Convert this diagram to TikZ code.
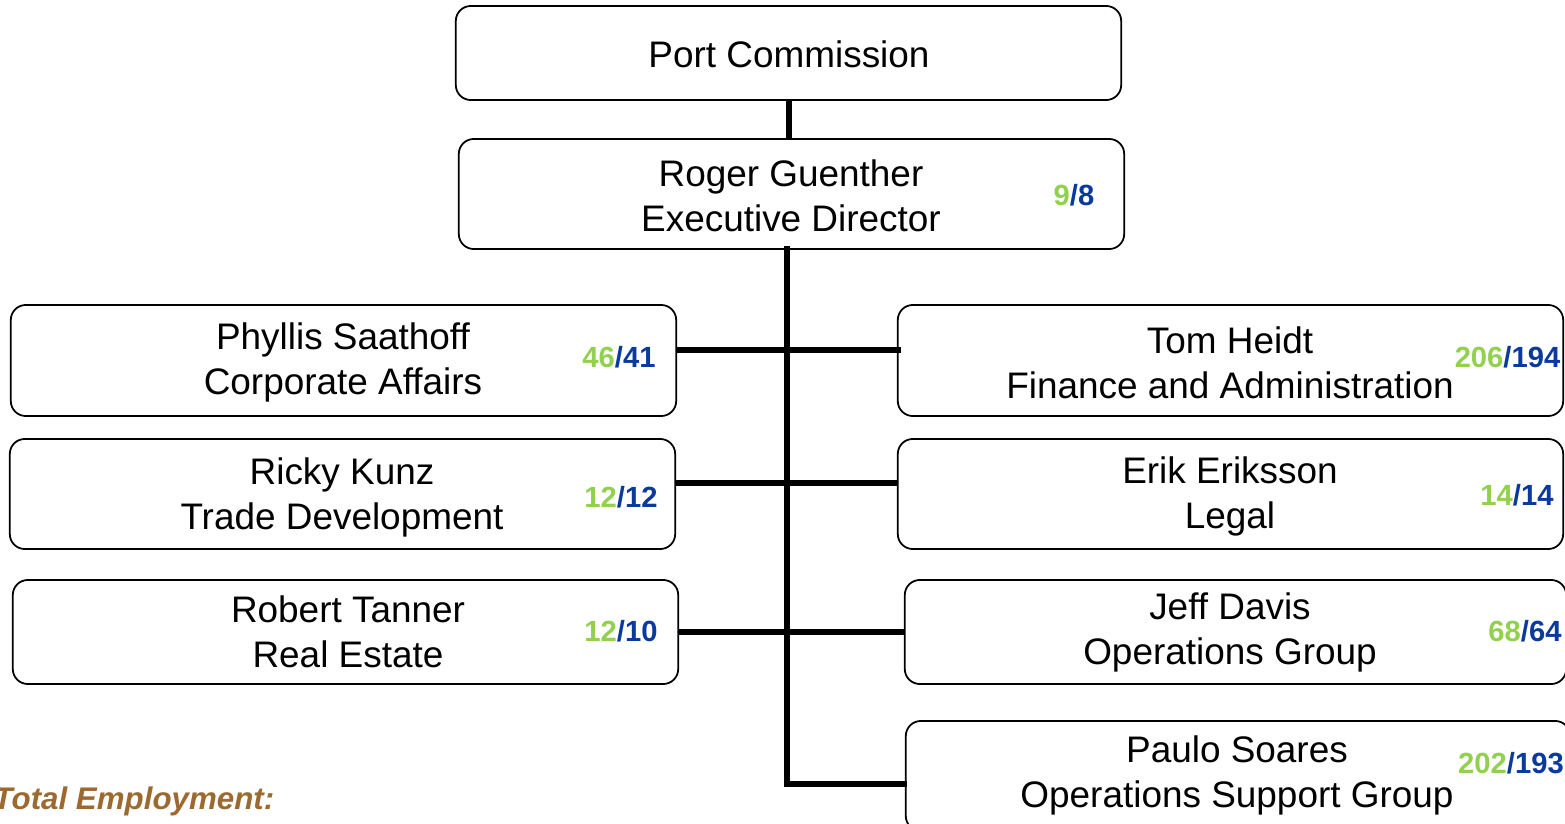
\documentclass[tikz,border=0pt]{standalone}
\usepackage{fontspec}
\setmainfont{Liberation Sans}
\definecolor{numgreen}{HTML}{92D050}
\definecolor{numblue}{HTML}{0A3A9C}
\definecolor{totbrown}{HTML}{9C6A30}
\tikzset{
  orgbox/.style={draw=black, line width=0.5pt, rounded corners=0.15cm, minimum width=6.65cm, minimum height=1.1cm, inner sep=0pt},
  orgtext/.style={align=center, font=\fontsize{10.5pt}{12.8pt}\selectfont, inner sep=0pt},
  numtext/.style={font=\fontsize{8.3pt}{9pt}\selectfont\bfseries, inner sep=0pt},
  conn/.style={line width=1.45pt, draw=black}
}
\newcommand{\numpair}[2]{\textcolor{numgreen}{#1}\textcolor{numblue}{/#2}}
\begin{document}
\begin{tikzpicture}[x=0.01cm, y=-0.01cm]
\useasboundingbox (0,0) rectangle (1565,824);
\clip (0,0) rectangle (1565,824);
% boxes
\node[orgbox, minimum height=0.94cm] (port) at (788.5,53) {};
\node[orgbox] (roger) at (791.5,194) {};
\node[orgbox, minimum height=1.11cm] (phyllis) at (343.5,360.5) {};
\node[orgbox, minimum height=1.11cm] (tom) at (1230.5,360.5) {};
\node[orgbox] (ricky) at (342.5,494) {};
\node[orgbox] (erik) at (1230.5,494) {};
\node[orgbox, minimum height=1.04cm] (robert) at (345.5,632) {};
\node[orgbox, minimum height=1.04cm, minimum width=6.61cm] (jeff) at (1235.5,632) {};
\node[orgbox, minimum height=1.10cm, minimum width=6.64cm] (paulo) at (1238,776) {};
% texts
\node[orgtext] (porttx) at (789,54) {Port Commission};
\node[orgtext] (rogertx) at (791,196) {Roger Guenther\\Executive Director};
\node[orgtext] (phyllistx) at (343,362.5) {Phyllis Saathoff\\Corporate Affairs};
\node[orgtext] (tomtx) at (1230,362.5) {Tom Heidt\\Finance and Administration};
\node[orgtext] (rickytx) at (342,497) {Ricky Kunz\\Trade Development};
\node[orgtext] (eriktx) at (1230,496.5) {Erik Eriksson\\Legal};
\node[orgtext] (roberttx) at (348,632) {Robert Tanner\\Real Estate};
\node[orgtext] (jefftx) at (1230,632) {Jeff Davis\\Operations Group};
\node[orgtext] (paulotx) at (1237,775) {Paulo Soares\\Operations Support Group};
% numbers
\node[numtext] (rogernum) at (1074,195.5) {\numpair{9}{8}};
\node[numtext] (phyllisnum) at (619,357.5) {\numpair{46}{41}};
\node[numtext] (tomnum) at (1507.5,357.5) {\numpair{206}{194}};
\node[numtext] (rickynum) at (621,497.5) {\numpair{12}{12}};
\node[numtext] (eriknum) at (1517,495.5) {\numpair{14}{14}};
\node[numtext] (robertnum) at (621,631.5) {\numpair{12}{10}};
\node[numtext] (jeffnum) at (1525,631.5) {\numpair{68}{64}};
\node[numtext] (paulonum) at (1511,763.5) {\numpair{202}{193}};
% total employment
\node[anchor=west, inner sep=0pt, font=\fontsize{8.9pt}{10pt}\selectfont\bfseries\itshape, text=totbrown] (total) at (-7,801) {Total Employment:};
% connectors
\coordinate (trunk) at (787,249);
\coordinate (trunkend) at (787,784);
\draw[conn] (789,100) -- (789,139);
\draw[conn, line cap=rect] (trunk) -- (trunkend) -- (trunkend -| paulo.west);
\draw[conn] ([yshift=0.105cm]phyllis.east) -- ([yshift=0.105cm, xshift=0.04cm]phyllis.east -| tom.west);
\draw[conn] ([yshift=0.11cm]ricky.east) -- ([yshift=0.11cm]ricky.east -| erik.west);
\draw[conn] (robert.east) -- (robert.east -| jeff.west);
\end{tikzpicture}
\end{document}
